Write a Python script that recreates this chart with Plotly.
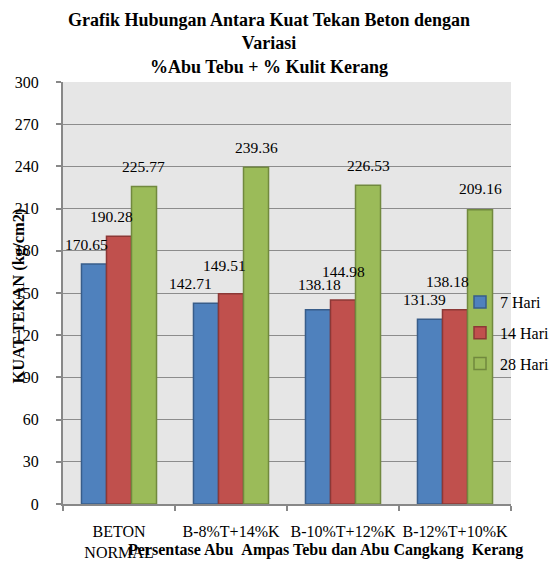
import plotly.graph_objects as go

categories = ["BETON<br>NORMAL", "B-8%T+14%K", "B-10%T+12%K", "B-12%T+10%K"]
series_names = ["7 Hari", "14 Hari", "28 Hari"]
hari7 = [170.65, 142.71, 138.18, 131.39]
hari14 = [190.28, 149.51, 144.98, 138.18]
hari28 = [225.77, 239.36, 226.53, 209.16]
y_ticks = [0, 30, 60, 90, 120, 150, 180, 210, 240, 270, 300]

series_values = [hari7, hari14, hari28]
fills = ["#4F81BD", "#C0504D", "#9BBB59"]
outlines = ["#385D8A", "#8C3836", "#71893E"]

# label offsets (px) relative to bar centre/top, as placed in the original chart
label_dx = [[-7, -15, 2, -5], [-8, -7, 0, -8], [-1, 0, 0, 0]]
label_dy = [[19, 20, 25, 20], [20, 28, 29, 28], [20, 20, 20, 21]]

SERIF = "Liberation Serif"
BARGAP = 0.33

fig = go.Figure()
for i, (name, vals) in enumerate(zip(series_names, series_values)):
    fig.add_trace(go.Bar(
        name=name, x=categories, y=vals,
        marker=dict(color=fills[i], line=dict(color=outlines[i], width=1.5)),
        legendgroup=name,
    ))

# data labels as annotations
bw = (1 - BARGAP) / 3
annotations = []
for i, vals in enumerate(series_values):
    for j, v in enumerate(vals):
        annotations.append(dict(
            x=j + (i - 1) * bw, y=v, xref="x", yref="y",
            text=f"{v:.2f}", showarrow=False,
            xshift=label_dx[i][j], yshift=label_dy[i][j],
            yanchor="middle", xanchor="center",
            font=dict(family=SERIF, size=15.5, color="black"),
        ))

# axis titles
annotations.append(dict(
    x=0.587, y=0, xref="paper", yref="paper", yshift=-46,
    text="<b>Persentase Abu \u00a0Ampas Tebu dan Abu Cangkang \u00a0Kerang</b>",
    showarrow=False, xanchor="center", yanchor="middle",
    font=dict(family=SERIF, size=16, color="black"),
))
annotations.append(dict(
    x=0, y=0.5, xref="paper", yref="paper", xshift=-45.5, yshift=-3,
    text="<b>KUAT TEKAN (kg/cm2)</b>", textangle=-90,
    showarrow=False, xanchor="center", yanchor="middle",
    font=dict(family=SERIF, size=16.5, color="black"),
))

fig.update_layout(
    width=549, height=561,
    margin=dict(l=63, r=38, t=82, b=57, autoexpand=False),
    paper_bgcolor="white",
    plot_bgcolor="#E6E6E6",
    barmode="group", bargap=BARGAP, bargroupgap=0,
    title=dict(
        text="<b>Grafik Hubungan Antara Kuat Tekan Beton dengan<br>Variasi<br>%Abu Tebu + % Kulit Kerang</b>",
        x=0.49, xref="container", xanchor="center",
        y=1 - 26 / 561, yref="container", yanchor="top",
        font=dict(family=SERIF, size=18, color="black"),
    ),
    font=dict(family=SERIF, size=16, color="black"),
    showlegend=True,
    legend=dict(
        x=460 / 549, xanchor="left", y=1 - 285 / 561, yanchor="top",
        xref="container", yref="container",
        bgcolor="rgba(0,0,0,0)", borderwidth=0,
        font=dict(family=SERIF, size=16, color="black"),
        tracegroupgap=7, itemwidth=30,
    ),
    annotations=annotations,
)

fig.update_xaxes(
    type="category", tickson="boundaries", tickangle=0,
    ticks="outside", ticklen=5, tickcolor="#888888", tickwidth=1.5,
    showline=True, linecolor="#888888", linewidth=1.5,
    showgrid=False, ticklabelstandoff=12, automargin=False,
    tickfont=dict(family=SERIF, size=16, color="black"),
)
fig.update_yaxes(
    range=[0, 300], tickvals=y_ticks,
    ticks="outside", ticklen=5, tickcolor="#888888", tickwidth=1.5,
    showline=True, linecolor="#888888", linewidth=2,
    showgrid=True, gridcolor="#8C8C8C", gridwidth=1.3,
    zeroline=False, ticklabelstandoff=14, automargin=False,
    tickfont=dict(family=SERIF, size=16, color="black"),
)

fig.write_html(
    "out.html",
    config={"displayModeBar": False},
    post_script="document.body.style.margin='0';document.body.style.overflow='hidden';",
)
